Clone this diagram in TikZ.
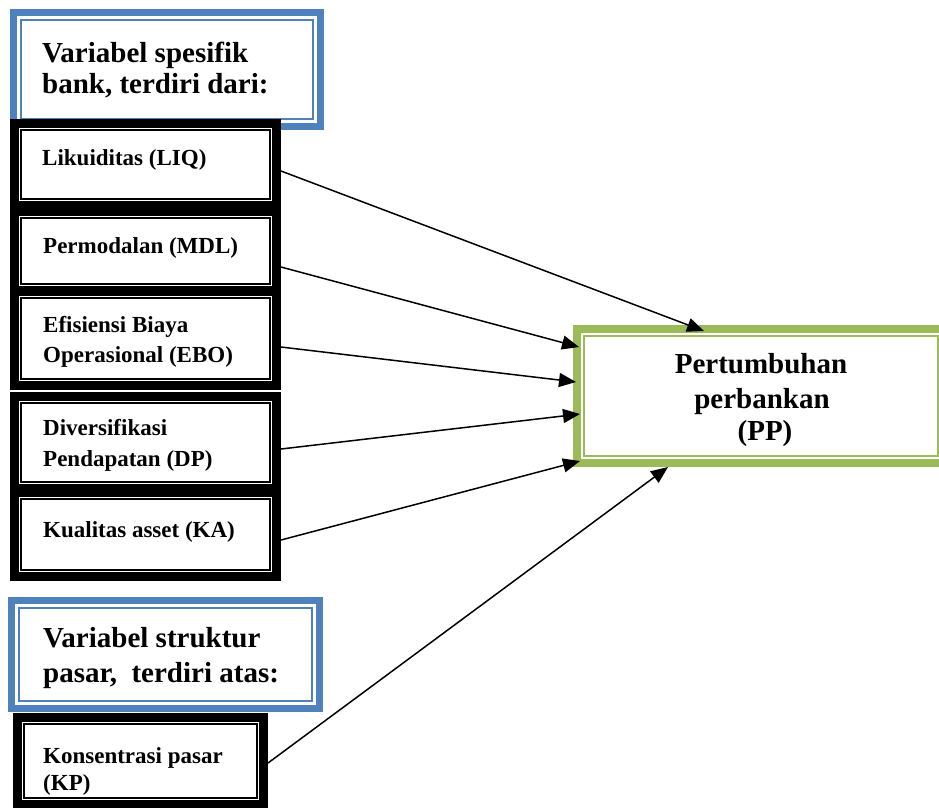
\documentclass[tikz,border=0pt]{standalone}
\usepackage{fontspec}
\setmainfont{Liberation Serif}
\usetikzlibrary{arrows.meta}
\definecolor{wordblue}{HTML}{4F81BD}
\definecolor{wordgreen}{HTML}{9BBB59}
\tikzset{
  bandbox/.style={fill=white, inner sep=0pt},
  bigtxt/.style={font=\fontsize{29}{31}\selectfont\bfseries, inner sep=0pt},
  smalltxt/.style={font=\fontsize{23}{26}\selectfont\bfseries, inner sep=0pt},
  link/.style={line width=1.5pt, -{Triangle[length=17pt,width=14pt]}},
}
% #1 name, #2 colour, #3 band width, #4 thin line width, #5..#8 outer x1,y1,x2,y2
\newcommand\dblbox[8]{%
  \pgfmathsetmacro\bcx{(#5+#7)/2}%
  \pgfmathsetmacro\bcy{(#6+#8)/2}%
  \pgfmathsetmacro\bw{#7-#5-#3}%
  \pgfmathsetmacro\bh{#8-#6-#3}%
  \pgfmathsetmacro\bos{#3/2}%
  \node[bandbox, draw=#2, line width=#3pt, outer sep=\bos pt,
        minimum width=\bw pt, minimum height=\bh pt] (#1) at (\bcx,\bcy) {};
  \draw[#2, line width=#4pt] ([shift={(11pt,-11pt)}]#1.north west) rectangle ([shift={(-11pt,11pt)}]#1.south east);
}
\begin{document}
\begin{tikzpicture}[x=1pt,y=-1pt]
\fill[white] (0,0) rectangle (939,807);
\useasboundingbox (0,0) rectangle (939,807);

\dblbox{blueA}{wordblue}{7}{1.5}{10}{9}{324}{130}
\dblbox{liq}{black}{9}{2}{10}{119}{281}{210}
\dblbox{mdl}{black}{9}{2}{10}{207}{281}{295}
\dblbox{ebo}{black}{9}{2}{10}{287}{281}{390}
\dblbox{dp}{black}{9}{2}{10}{392}{281}{493}
\dblbox{ka}{black}{9}{2}{10}{488}{281}{581}
\dblbox{blueB}{wordblue}{7}{1.5}{8}{597}{323}{712}
\dblbox{kp}{black}{9}{2}{13}{713}{268}{809}
\dblbox{pp}{wordgreen}{8}{1.5}{573}{325}{949}{467}

\node[bigtxt, anchor=base west] (ta1) at (42,62) {Variabel spesifik};
\node[bigtxt, anchor=base west] (ta2) at (42,93) {bank, terdiri dari:};
\node[bigtxt, anchor=base west] (tb1) at (43,647) {Variabel struktur};
\node[bigtxt, anchor=base west] (tb2) at (43,682) {pasar, \ terdiri atas:};

\node[smalltxt, anchor=base west] (tliq) at (42,165) {Likuiditas (LIQ)};
\node[smalltxt, anchor=base west] (tmdl) at (43,253) {Permodalan (MDL)};
\node[smalltxt, anchor=base west] (tebo1) at (43,332) {Efisiensi Biaya};
\node[smalltxt, anchor=base west] (tebo2) at (43,362) {Operasional (EBO)};
\node[smalltxt, anchor=base west] (tdp1) at (43,435) {Diversifikasi};
\node[smalltxt, anchor=base west] (tdp2) at (43,466) {Pendapatan (DP)};
\node[smalltxt, anchor=base west] (tka) at (43,537) {Kualitas asset (KA)};
\node[smalltxt, anchor=base west] (tkp1) at (43,763) {Konsentrasi pasar};
\node[smalltxt, anchor=base west] (tkp2) at (43,790) {(KP)};

\node[bigtxt, anchor=base] (tpp1) at (761,373) {Pertumbuhan};
\node[bigtxt, anchor=base] (tpp2) at (762,408) {perbankan};
\node[bigtxt, anchor=base] (tpp3) at (765,440) {(PP)};

\draw[link] ([yshift=-6.5pt]liq.east) -- ([xshift=131pt,yshift=-6pt]pp.north west);
\draw[link] ([yshift=-16pt]mdl.east) -- ([xshift=6pt,yshift=-22pt]pp.north west);
\draw[link] ([yshift=-8.5pt]ebo.east) -- ([xshift=3pt,yshift=-57pt]pp.north west);
\draw[link] ([yshift=-6.5pt]dp.east) -- ([xshift=7pt,yshift=-89pt]pp.north west);
\draw[link] ([yshift=-5.5pt]ka.east) -- ([xshift=7pt,yshift=-136pt]pp.north west);
\draw[link] ([yshift=-2pt]kp.east) -- ([xshift=95pt]pp.south west);
\end{tikzpicture}
\end{document}
